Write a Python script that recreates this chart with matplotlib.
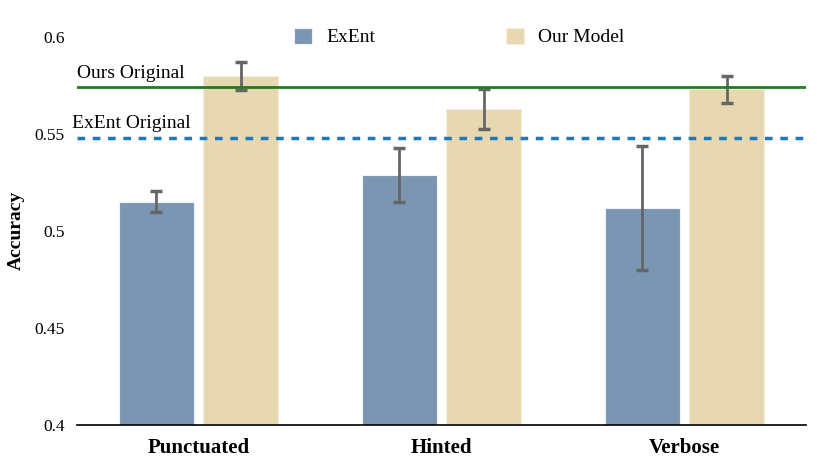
import numpy as np
import matplotlib
matplotlib.use('Agg')
from matplotlib import pyplot as plt

categories = ['Punctuated', 'Hinted', 'Verbose']
exent_acc = [0.515, 0.529, 0.512]
exent_err_low = [0.5098, 0.515, 0.480]
exent_err_high = [0.5206, 0.5428, 0.5438]
ours_acc = [0.580, 0.563, 0.573]
ours_err_low = [0.5727, 0.5526, 0.566]
ours_err_high = [0.587, 0.5732, 0.5799]
ours_original = 0.574
exent_original = 0.548
yticks = [0.4, 0.45, 0.5, 0.55, 0.6]
ytick_labels = ['0.4', '0.45', '0.5', '0.55', '0.6']

plt.rcParams['font.family'] = ['Liberation Serif', 'DejaVu Serif']

fig = plt.figure(figsize=(8.3, 4.67), dpi=100)
ax = fig.add_axes([0.0928, 0.0899, 0.8783, 0.8309])

x = np.arange(len(categories))
w = 0.31
off = 0.173
exent = np.array(exent_acc)
ours = np.array(ours_acc)
exent_yerr = [exent - np.array(exent_err_low), np.array(exent_err_high) - exent]
ours_yerr = [ours - np.array(ours_err_low), np.array(ours_err_high) - ours]

err_kw = dict(ecolor='#666666', elinewidth=2, capsize=4.5, capthick=2.5)
ax.bar(x - off, exent, w, color='#7A96B3', edgecolor='#EEF2F6', linewidth=0.8,
       yerr=exent_yerr, error_kw=err_kw, label='ExEnt', zorder=2)
ax.bar(x + off, ours, w, color='#E8D8B1', edgecolor='#F5EEDC', linewidth=0.8,
       yerr=ours_yerr, error_kw=err_kw, label='Our Model', zorder=2)

ax.axhline(ours_original, color='#1E7D1E', linewidth=2, zorder=3)
ax.axhline(exent_original, color='#1F78B8', linewidth=2.5, linestyle=(0, (2.2, 2.2)), zorder=3)
ax.text(-0.5, ours_original + 0.003, 'Ours Original', fontsize=14, ha='left', va='bottom')
ax.text(-0.52, exent_original + 0.003, 'ExEnt Original', fontsize=14, ha='left', va='bottom')

ax.set_xlim(-0.5, 2.5)
ax.set_ylim(0.4, 0.6)
ax.set_yticks(yticks)
ax.set_yticklabels(ytick_labels, fontsize=12.5)
ax.set_xticks(x)
ax.set_xticklabels(categories, fontsize=15, fontweight='bold')
ax.tick_params(axis='both', length=0, pad=9)
ax.tick_params(axis='y', pad=9)
fig.text(16 / 830, 1 - 230 / 467, 'Accuracy', fontsize=14, fontweight='bold',
         rotation=90, ha='center', va='center')

for s in ['top', 'right', 'left']:
    ax.spines[s].set_visible(False)
ax.spines['bottom'].set_linewidth(1.2)

ax.legend(loc='center', bbox_to_anchor=(0.5536, 0.921), bbox_transform=fig.transFigure,
          ncol=2, frameon=False, fontsize=14, handlelength=0.9, handleheight=0.9,
          columnspacing=6.7, handletextpad=0.77)

fig.savefig('out.png', dpi=100)
